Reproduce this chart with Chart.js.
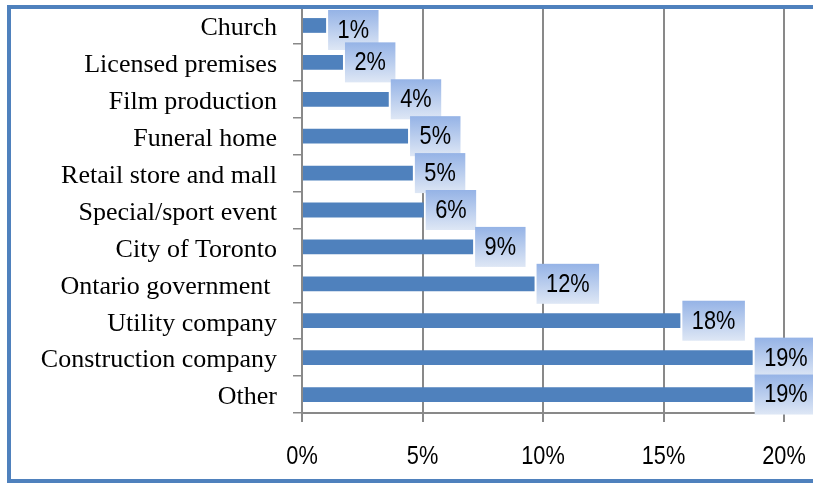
<!DOCTYPE html>
<html lang="en">
<head>
  <meta charset="utf-8">
  <title>Employer types</title>
  <script src="https://cdn.jsdelivr.net/npm/chart.js@4.4.1/dist/chart.umd.min.js"></script>
  <style>
    html, body { margin: 0; padding: 0; background: #fff; overflow: hidden; }
    #wrap { position: relative; width: 813px; height: 487px; }
  </style>
</head>
<body>
  <div id="wrap"><canvas id="chart" width="813" height="487"></canvas></div>
  <script>
    // values; labels are the printed percentages
    var categories = ['Church', 'Licensed premises', 'Film production', 'Funeral home',
      'Retail store and mall', 'Special/sport event', 'City of Toronto', 'Ontario government ',
      'Utility company', 'Construction company', 'Other'];
    var shares = [1.0, 1.7, 3.6, 4.4, 4.6, 5.05, 7.1, 9.65, 15.7, 18.7, 18.7];
    var shareLabels = ['1%', '2%', '4%', '5%', '5%', '6%', '9%', '12%', '18%', '19%', '19%'];
    var xTicks = [0, 5, 10, 15, 20];

    var blue = '#4f81bd';
    var gray = '#898989';
    var sansFont = '25px "Liberation Sans", Arial, sans-serif';
    var squeeze = 0.87; // the sans text in the original is a bit narrow

    function narrowText(ctx, text, x, y) {
      ctx.save();
      ctx.translate(x, y);
      ctx.scale(squeeze, 1);
      ctx.fillText(text, 0, 0);
      ctx.restore();
    }

    var labelBoxes = {
      id: 'labelBoxes',
      afterDatasetsDraw: function(chart) {
        var ctx = chart.ctx;
        var meta = chart.getDatasetMeta(0);
        ctx.save();
        ctx.font = sansFont;
        meta.data.forEach(function(bar, i) {
          var text = shareLabels[i];
          var w = ctx.measureText(text).width * squeeze + 19;
          var h = 40;
          var x = bar.x + 2;
          var y = Math.max(bar.y - h / 2, 10);
          var g = ctx.createLinearGradient(0, y, 0, y + h);
          g.addColorStop(0, '#95b3e6');
          g.addColorStop(1, '#dee7f5');
          ctx.fillStyle = g;
          ctx.fillRect(x, y, w, h);
          ctx.fillStyle = '#000';
          ctx.textAlign = 'center';
          ctx.textBaseline = 'middle';
          narrowText(ctx, text, x + w / 2, y + h / 2 + 1);
        });
        ctx.restore();
      }
    };

    var frame = {
      id: 'frame',
      beforeDraw: function(chart) {
        var ctx = chart.ctx;
        ctx.save();
        ctx.fillStyle = '#fff';
        ctx.fillRect(0, 0, chart.width, chart.height);
        ctx.restore();
      },
      afterDraw: function(chart) {
        var ctx = chart.ctx;
        var xs = chart.scales.x;
        ctx.save();
        // x tick labels
        ctx.font = sansFont;
        ctx.fillStyle = '#000';
        ctx.textAlign = 'center';
        ctx.textBaseline = 'middle';
        xTicks.forEach(function(v) {
          narrowText(ctx, v + '%', xs.getPixelForValue(v), xs.top + 44);
        });
        // outer border
        ctx.strokeStyle = blue;
        ctx.lineWidth = 4;
        ctx.strokeRect(9, 7, 830, 474);
        ctx.restore();
      }
    };

    new Chart(document.getElementById('chart').getContext('2d'), {
      type: 'bar',
      data: {
        labels: categories,
        datasets: [{
          data: shares,
          backgroundColor: blue,
          borderWidth: 0,
          barPercentage: 0.4,
          categoryPercentage: 1.0
        }]
      },
      plugins: [frame, labelBoxes],
      options: {
        indexAxis: 'y',
        responsive: false,
        animation: false,
        devicePixelRatio: 1,
        layout: { padding: { top: 7, right: 29, bottom: 0, left: 0 } },
        plugins: {
          legend: { display: false },
          tooltip: { enabled: false }
        },
        scales: {
          x: {
            min: 0,
            max: 20,
            afterBuildTicks: function(scale) {
              scale.ticks = xTicks.map(function(v) { return { value: v }; });
            },
            afterFit: function(scale) {
              scale.height = 74;
              scale.paddingLeft = 0;
              scale.paddingRight = 0;
            },
            grid: { color: gray, lineWidth: 2, tickLength: 9 },
            border: { color: gray, width: 2 },
            ticks: {
              padding: 20,
              color: 'rgba(0,0,0,0)',
              font: { family: '"Liberation Sans", Arial, sans-serif', size: 22 }
            }
          },
          y: {
            afterFit: function(scale) {
              scale.width = 302;
              scale.paddingTop = 0;
              scale.paddingBottom = 0;
            },
            grid: { color: gray, lineWidth: 1.5, tickLength: 9, drawOnChartArea: false },
            border: { color: gray, width: 2 },
            ticks: {
              padding: 16,
              labelOffset: 3,
              color: '#000',
              font: { family: '"Liberation Serif", "Times New Roman", serif', size: 26 }
            }
          }
        }
      }
    });
  </script>
</body>
</html>
